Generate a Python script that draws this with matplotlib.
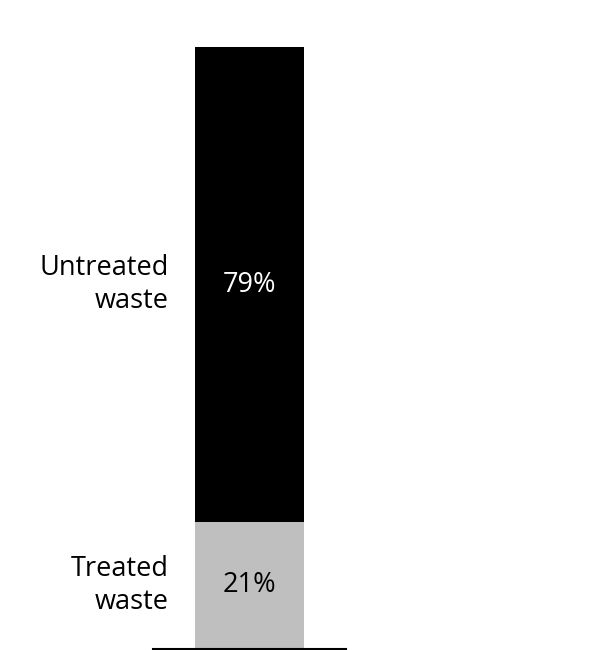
import matplotlib
matplotlib.use("Agg")
import matplotlib.pyplot as plt

# share of waste, treated vs untreated (percent)
segments = ["Treated\nwaste", "Untreated\nwaste"]
shares = [21, 79]
colors = ["#bfbfbf", "#000000"]
value_colors = ["black", "white"]

plt.rcParams["font.family"] = ["Open Sans", "DejaVu Sans"]

fig = plt.figure(figsize=(5.96, 6.5), dpi=100)
W, H = 596, 650
ax = fig.add_axes([153 / W, (H - 648.5) / H, 193 / W, (648.5 - 47) / H])

bottom = 0
for name, val, col, tcol in zip(segments, shares, colors, value_colors):
    ax.bar(0, val, width=0.56, bottom=bottom, color=col)
    mid = bottom + val / 2
    ax.text(0, mid, f"{val}%", ha="center", va="center", fontsize=19.5, color=tcol)
    # category label to the left of the bar
    ax.text(-0.42, mid, name, ha="right", va="center", fontsize=19.5,
            linespacing=1.27, color="black")
    bottom += val

ax.set_xlim(-0.5, 0.5)
ax.set_ylim(0, 100)
for side in ["left", "right", "top"]:
    ax.spines[side].set_visible(False)
ax.spines["bottom"].set_linewidth(1.5)
ax.set_xticks([])
ax.set_yticks([])

fig.savefig("out.png", dpi=100)
